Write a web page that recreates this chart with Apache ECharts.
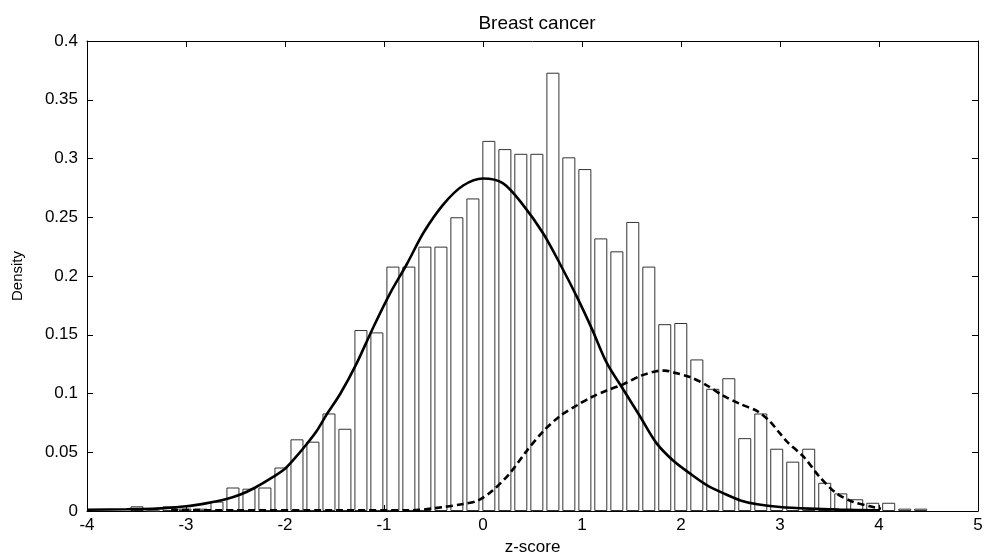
<!DOCTYPE html>
<html>
<head>
<meta charset="utf-8">
<script src="https://cdn.jsdelivr.net/npm/echarts@6/dist/echarts.min.js"></script>
<style>
html,body{margin:0;padding:0;background:#fff;}
#chart{width:984px;height:557px;}
</style>
</head>
<body>
<div id="chart"></div>
<script>
// Histogram bin centres (z-score) and densities
var binCenters = [-3.495,-3.333,-3.172,-3.010,-2.849,-2.687,-2.526,-2.364,-2.203,-2.041,
  -1.879,-1.718,-1.556,-1.395,-1.233,-1.072,-0.910,-0.749,-0.587,-0.425,
  -0.264,-0.102,0.059,0.221,0.382,0.544,0.706,0.867,1.029,1.190,
  1.352,1.513,1.675,1.836,1.998,2.160,2.321,2.483,2.644,2.806,
  2.967,3.129,3.290,3.452,3.614,3.775,3.937,4.098,4.260,4.421];
var densities = [0.004,0.000,0.004,0.002,0.002,0.008,0.020,0.019,0.020,0.037,
  0.061,0.059,0.083,0.070,0.154,0.152,0.208,0.208,0.225,0.225,
  0.250,0.266,0.315,0.308,0.304,0.304,0.373,0.301,0.291,0.232,
  0.221,0.246,0.208,0.159,0.160,0.129,0.104,0.113,0.062,0.083,
  0.053,0.042,0.053,0.024,0.015,0.010,0.007,0.007,0.002,0.002];

// Solid density curve
var solidX = [-4.0,-3.6,-3.3,-3.0,-2.8,-2.6,-2.45,-2.3,-2.12,-2.0,-1.9,-1.78,-1.68,-1.58,-1.44,-1.28,-1.11,-0.94,-0.77,-0.6,-0.4,-0.2,0.0,0.2,0.4,0.61,0.78,0.95,1.1,1.25,1.42,1.59,1.75,1.92,2.09,2.26,2.43,2.6,2.77,3.0,3.3,3.6,4.0];
var solidY = [0.001,0.0015,0.002,0.004,0.0065,0.010,0.014,0.020,0.029,0.036,0.045,0.057,0.068,0.082,0.100,0.125,0.156,0.185,0.210,0.237,0.261,0.277,0.283,0.279,0.261,0.236,0.210,0.182,0.155,0.126,0.103,0.080,0.058,0.043,0.032,0.022,0.015,0.009,0.0057,0.0034,0.002,0.0012,0.0005];

// Dashed density curve
var dashX = [-3.15,-2.5,-1.5,-0.74,-0.4,-0.2,-0.05,0.1,0.27,0.44,0.61,0.78,0.95,1.1,1.25,1.42,1.59,1.75,1.84,1.92,2.09,2.26,2.43,2.6,2.77,2.9,3.0,3.07,3.24,3.4,3.57,3.74,3.91,4.02];
var dashY = [0.001,0.0005,0.0005,0.0005,0.0034,0.006,0.009,0.0176,0.032,0.051,0.068,0.081,0.090,0.097,0.1026,0.108,0.115,0.119,0.1195,0.118,0.114,0.107,0.098,0.091,0.085,0.076,0.066,0.059,0.046,0.029,0.015,0.0077,0.004,0.002];

var xTicks = {min:-4, max:5, interval:1};
var yTicks = {min:0, max:0.4, interval:0.05};

function pairs(xs, ys){ return xs.map(function(x,i){ return [x, ys[i]]; }); }

var FONT = 'Liberation Sans';
var chart = echarts.init(document.getElementById('chart'), null, {renderer:'canvas'});
var axisCommon = {
  type:'value',
  axisLine:{show:true, onZero:false, lineStyle:{color:'#000', width:1}},
  axisTick:{show:true, inside:true, length:6, lineStyle:{color:'#000'}},
  splitLine:{show:false}
};
chart.setOption({
  animation:false,
  backgroundColor:'#fff',
  title:{
    text:'Breast cancer', left:532, top:9, textAlign:'center',
    textStyle:{fontFamily:FONT, fontSize:19, fontWeight:'normal', color:'#000'}
  },
  grid:{left:87, right:6, top:41, bottom:46, containLabel:false, outerBoundsMode:'none'},
  xAxis:[
    Object.assign({}, axisCommon, {
      position:'bottom', min:xTicks.min, max:xTicks.max, interval:xTicks.interval,
      name:'z-score', nameLocation:'middle', nameGap:27,
      nameTextStyle:{fontFamily:FONT, fontSize:17, color:'#000'},
      axisLabel:{fontFamily:FONT, fontSize:17, color:'#000', margin:6}
    }),
    Object.assign({}, axisCommon, {
      position:'top', min:xTicks.min, max:xTicks.max, interval:xTicks.interval,
      axisLabel:{show:false}
    })
  ],
  yAxis:[
    Object.assign({}, axisCommon, {
      position:'left', min:yTicks.min, max:yTicks.max, interval:yTicks.interval,
      name:'Density', nameLocation:'middle', nameGap:62,
      nameTextStyle:{fontFamily:FONT, fontSize:15, color:'#000'},
      axisLabel:{fontFamily:FONT, fontSize:17, color:'#000', margin:9}
    }),
    Object.assign({}, axisCommon, {
      position:'right', min:yTicks.min, max:yTicks.max, interval:yTicks.interval,
      axisLabel:{show:false}
    })
  ],
  series:[
    {
      type:'bar', xAxisIndex:0, yAxisIndex:0,
      data:pairs(binCenters, densities),
      barWidth:13,
      itemStyle:{color:'#fff', borderColor:'#333', borderWidth:1},
      z:2
    },
    {
      type:'line', xAxisIndex:0, yAxisIndex:0,
      data:pairs(solidX, solidY), smooth:0.3, showSymbol:false, symbol:'none',
      lineStyle:{color:'#000', width:2.6},
      z:4
    },
    {
      type:'line', xAxisIndex:0, yAxisIndex:0,
      data:pairs(dashX, dashY), smooth:0.3, showSymbol:false, symbol:'none',
      lineStyle:{color:'#000', width:2.6, type:[7,4]},
      z:3
    }
  ]
});
</script>
</body>
</html>
